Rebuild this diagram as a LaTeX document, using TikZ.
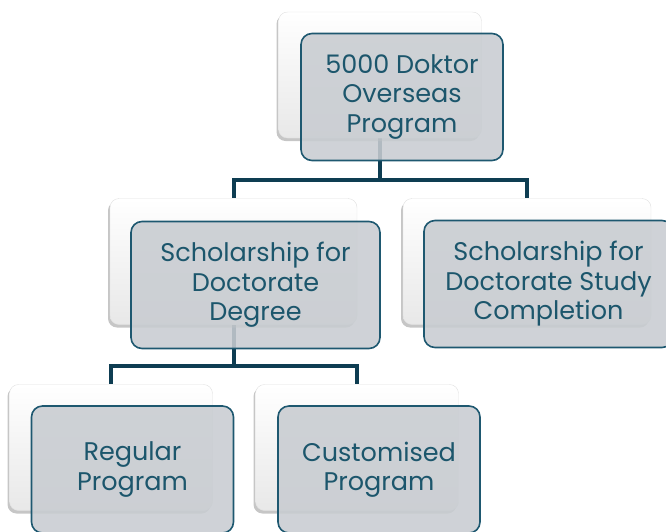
\documentclass[tikz,border=0pt]{standalone}
\usepackage{fontspec}
\setmainfont{Poppins}
\usetikzlibrary{shadows}
\definecolor{boxline}{RGB}{30,88,112}
\definecolor{boxfill}{RGB}{200,204,209}
\definecolor{linkcol}{RGB}{14,61,82}
\definecolor{txtcol}{RGB}{28,86,108}
\pgfdeclarelayer{bg}
\pgfsetlayers{bg,main}

\begin{document}
\begin{tikzpicture}[x=1pt,y=-1pt,
    back/.style={rectangle,rounded corners=9pt,minimum width=203pt,minimum height=126pt,
      top color=white,bottom color=black!9,draw=black!12,
      drop shadow={shadow xshift=-2pt,shadow yshift=-3pt,opacity=0.45}},
    front/.style={rectangle,rounded corners=11pt,minimum width=202pt,minimum height=127pt,
      fill=boxfill,fill opacity=0.88,text opacity=1,draw=boxline,line width=1.6pt,
      text=txtcol,align=center,font=\fontsize{25.5}{29.5}\selectfont},
    link/.style={draw=linkcol,line width=4pt}]
                \useasboundingbox (0,0) rectangle (666,531);
                \node[back] (doktorbg) at (380,75) {};
                \node[back,minimum width=247pt] (degreebg) at (233.5,261.5) {};
                \node[back,minimum width=248pt] (completionbg) at (527,261.5) {};
                \node[back] (regularbg) at (111,447.5) {};
                \node[back] (customisedbg) at (357,447.5) {};
                \node[front] (doktor) at (402,97) {5000 Doktor\\Overseas\\Program};
                \node[front,minimum width=249pt] (degree) at (255.5,285) {Scholarship for\\Doctorate\\Degree};
                \node[front,minimum width=249pt] (completion) at (548.5,284) {Scholarship for\\Doctorate Study\\Completion};
                \node[front] (regular) at (132.5,469.5) {Regular\\Program};
                \node[front] (customised) at (379,469.5) {Customised\\Program};
                \begin{pgfonlayer}{bg}
                \draw[link] (doktorbg) -- ++(0,105) -| (degreebg);
                \draw[link] (doktorbg) -- ++(0,105) -| (completionbg);
                \draw[link] (degreebg) -- ++(0,104.5) -| (regularbg);
                \draw[link] (degreebg) -- ++(0,104.5) -| (customisedbg);
                \end{pgfonlayer}
            \end{tikzpicture}
\end{document}
